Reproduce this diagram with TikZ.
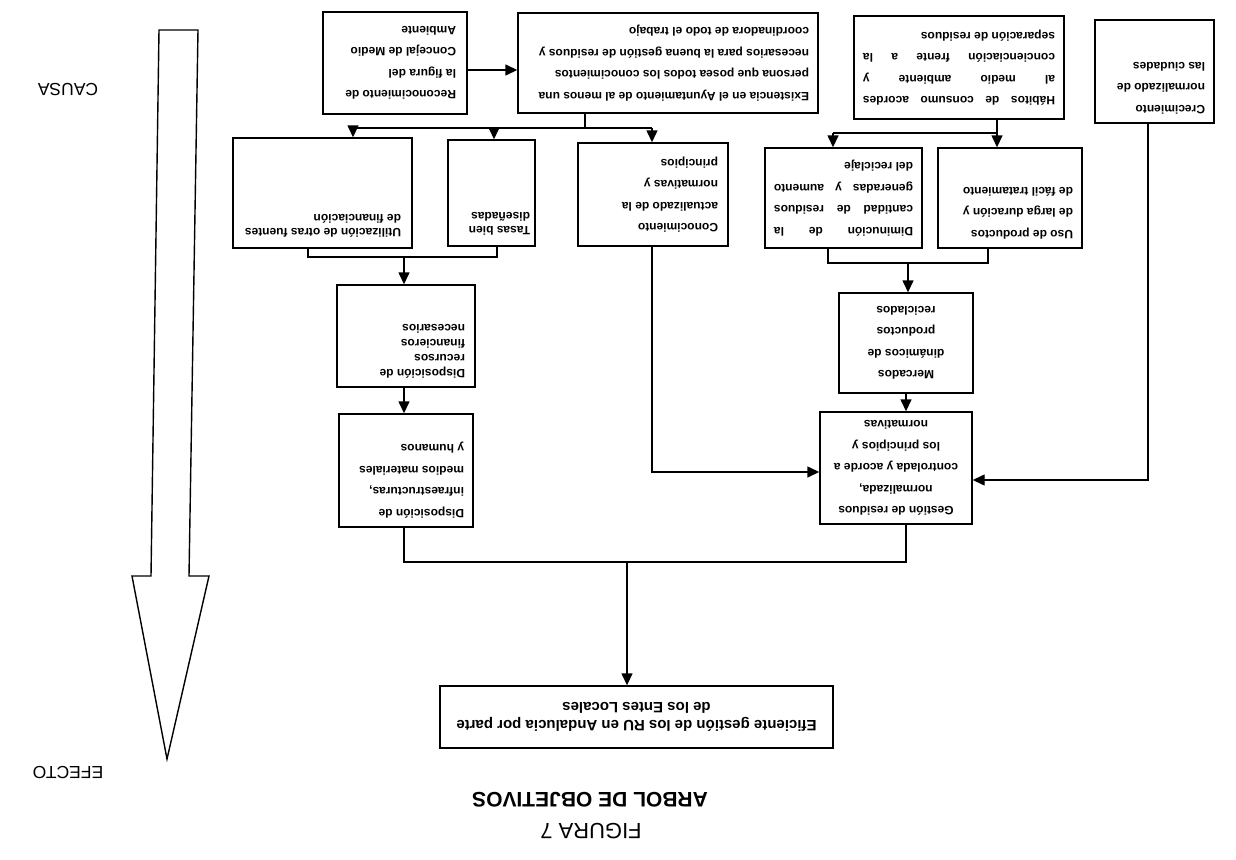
\documentclass[tikz,border=0pt]{standalone}
\usepackage{fontspec}
\setmainfont{Liberation Sans}
\usepackage{graphicx}
\usetikzlibrary{arrows.meta}
\newcommand{\btext}[4]{\rotatebox{180}{\begin{minipage}[c][#2][#3]{#1}#4\end{minipage}}}
\newcommand{\jl}[1]{\makebox[\linewidth][s]{#1}}
\begin{document}
\begin{tikzpicture}[x=1pt,y=-1pt,
  box/.style={draw, line width=1.4pt, inner sep=0pt, font=\bfseries\fontsize{12}{21.5}\selectfont},
  arr/.style={line width=1.4pt, -{Triangle[length=12pt,width=11pt]}},
  ln/.style={line width=1.4pt},
  big/.style={line width=1.4pt, line join=miter},
  rot/.style={rotate=180, inner sep=0pt}]
\useasboundingbox (0,0) rectangle (1236,859);

% top row
\node[box,minimum width=144pt,minimum height=102pt] (rec) at (395,63)
  {\btext{122pt}{82pt}{c}{\raggedright Reconocimiento de\\la figura del\\Concejal de Medio\\Ambiente}};
\node[box,minimum width=300pt,minimum height=100pt] (exi) at (668,63)
  {\btext{282pt}{80pt}{c}{\raggedright Existencia en el Ayuntamiento de al menos una\\persona que posea todos los conocimientos\\necesarios para la buena gestión de residuos y\\coordinadora de todo el trabajo}};
\node[box,minimum width=210pt,minimum height=103pt] (hab) at (959,67.5)
  {\btext{192pt}{83pt}{c}{\raggedright\jl{Hábitos de consumo acordes}\\\jl{al medio ambiente y}\\\jl{concienciación frente a la}\\separación de residuos}};
\node[box,minimum width=119pt,minimum height=103pt] (cre) at (1154.5,71.5)
  {\btext{101pt}{85pt}{t}{\raggedright Crecimiento\\normalizado de\\las ciudades}};

% second row
\node[box,minimum width=179pt,minimum height=110pt] (uti) at (322.5,193)
  {\btext{157pt}{88pt}{t}{\fontsize{12}{14}\selectfont\raggedright Utilización de otras fuentes\\de financiación}};
\node[box,minimum width=87pt,minimum height=106pt] (tas) at (491.5,193)
  {\btext{77pt}{84pt}{t}{\fontsize{12}{14}\selectfont\raggedright Tasas bien\\diseñadas}};
\node[box,minimum width=150pt,minimum height=103pt] (con) at (653,194.5)
  {\btext{130pt}{83pt}{c}{\raggedright Conocimiento\\actualizado de la\\normativas y\\principios}};
\node[box,minimum width=157pt,minimum height=100pt] (dim) at (843.5,198)
  {\btext{139pt}{80pt}{c}{\raggedright\jl{Diminución de la}\\\jl{cantidad de residuos}\\\jl{generadas y aumento}\\del reciclaje}};
\node[box,minimum width=144pt,minimum height=100pt] (uso) at (1010,198)
  {\btext{126pt}{82pt}{t}{\raggedright Uso de productos\\de larga duración y\\de fácil tratamiento}};

% third / fourth row
\node[box,minimum width=138pt,minimum height=102pt] (dre) at (406,336)
  {\btext{118pt}{84pt}{t}{\fontsize{12}{15}\selectfont\raggedright Disposición de\\recursos\\financieros\\necesarios}};
\node[box,minimum width=134pt,minimum height=113pt] (inf) at (406,470.5)
  {\btext{116pt}{95pt}{t}{\raggedright Disposición de\\infraestructuras,\\medios materiales\\y humanos}};
\node[box,minimum width=134pt,minimum height=100pt] (mer) at (906,343)
  {\btext{114pt}{80pt}{c}{\centering Mercados\\dinámicos de\\productos\\reciclados}};
\node[box,minimum width=152pt,minimum height=112pt] (ges) at (896,468)
  {\btext{134pt}{92pt}{c}{\centering Gestión de residuos\\normalizada,\\controlada y acorde a\\los principios y\\normativas}};
\node[box,minimum width=393pt,minimum height=62pt] (efi) at (636.5,717)
  {\btext{377pt}{50pt}{c}{\fontsize{15}{17.5}\selectfont\centering Eficiente gestión de los RU en Andalucia por parte\\de los Entes Locales}};

% junction coordinates
\coordinate (r1) at (0,70);
\coordinate (j1) at (585,128);
\coordinate (au) at (353,128);
\coordinate (at) at (494,128);
\coordinate (ac) at (652,128);
\coordinate (j2) at (997,133);
\coordinate (ad) at (833,133);
\coordinate (bd) at (828,263);
\coordinate (bu) at (988,263);
\coordinate (j3) at (908,263);
\coordinate (cu) at (308,257);
\coordinate (ct) at (497,257);
\coordinate (j5) at (404,257);
\coordinate (k1) at (0,472);
\coordinate (k2) at (1148,480);
\coordinate (gs) at (906,562);
\coordinate (j6) at (627,562);

% connectors
\draw[arr] (rec.east |- r1) -- (exi.west |- r1);
\draw[ln] (exi.south -| j1) -- (j1);
\draw[ln] (au) -- (ac);
\draw[arr] (au) -- (uti.north -| au);
\draw[arr] (at) -- (tas.north -| at);
\draw[arr] (ac) -- (con.north -| ac);

\draw[ln] (hab.south -| j2) -- (j2) -- (ad);
\draw[arr] (j2) -- (uso.north -| j2);
\draw[arr] (ad) -- (dim.north -| ad);

\draw[ln] (dim.south -| bd) -- (bd) -- (bu) -- (uso.south -| bu);
\draw[arr] (j3) -- (mer.north -| j3);
\draw[arr] (mer.south -| gs) -- (ges.north -| gs);

\draw[ln] (uti.south -| cu) -- (cu) -- (ct) -- (tas.south -| ct);
\draw[arr] (j5) -- (dre.north -| j5);
\draw[arr] (dre.south -| j5) -- (inf.north -| j5);

\draw[arr] (con.south -| ac) |- (ges.west |- k1);
\draw[arr] (cre.south -| k2) |- (ges.east |- k2);

\draw[ln] (inf.south -| j5) |- (gs) -- (ges.south -| gs);
\draw[arr] (j6) -- (efi.north -| j6);

% big arrow
\draw[big] (159,30) -- (198,30) -- (189,576) -- (209,576) -- (167,759) -- (132,576) -- (151,576) -- cycle;

% labels
\node[rot, font=\fontsize{17.5}{17.5}\selectfont] (causa) at (68,90) {CAUSA};
\node[rot, font=\fontsize{17.5}{17.5}\selectfont] (efecto) at (68,773) {EFECTO};
\node[rot, font=\bfseries\fontsize{21}{21}\selectfont] (titulo) at (590,800) {ARBOL DE OBJETIVOS};
\node[rot, font=\fontsize{22}{22}\selectfont] (figura) at (591,831) {FIGURA 7};
\end{tikzpicture}
\end{document}
